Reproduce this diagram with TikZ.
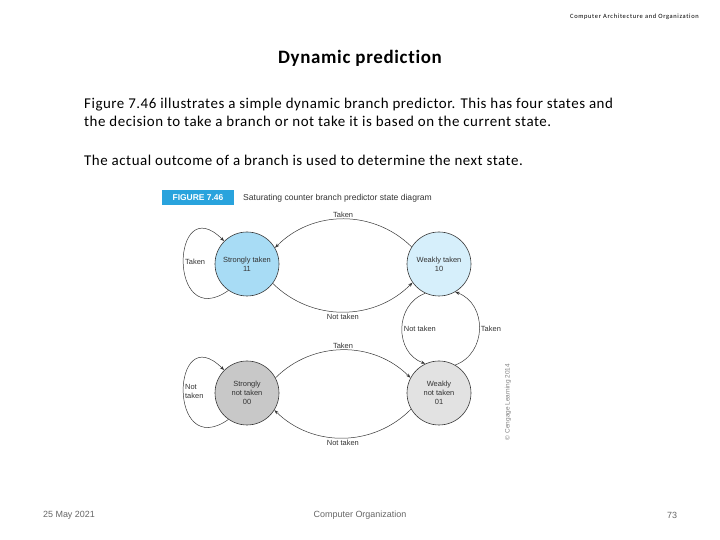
\documentclass[tikz,border=0pt]{standalone}
\usepackage{fontspec}
\setmainfont[Ligatures=NoCommon]{Carlito}
\newfontfamily\arialfont{Liberation Sans}
\newfontfamily\spacedfont[Ligatures=NoCommon,LetterSpace=3.5]{Carlito}
\newfontfamily\headerfont[Ligatures=NoCommon,LetterSpace=10]{Carlito}
\usetikzlibrary{arrows.meta,positioning}
\definecolor{figblue}{RGB}{41,163,221}
\definecolor{strongblue}{RGB}{168,220,245}
\definecolor{weakblue}{RGB}{214,239,251}
\definecolor{stronggray}{RGB}{200,200,200}
\definecolor{weakgray}{RGB}{226,226,226}
\definecolor{linegray}{RGB}{55,55,55}
\tikzset{
    state circle/.style={
        circle, draw=linegray, line width=0.6pt,
        minimum size=64bp, inner sep=0pt, align=center,
        font=\arialfont\fontsize{7.5}{9}\selectfont,
        text=black!80
    },
    edge label/.style={
        font=\arialfont\fontsize{7.5}{9}\selectfont,
        text=black!80, inner sep=1.5bp
    },
    transition/.style={
        draw=linegray, line width=0.5pt,
        -{Stealth[length=4.5bp,width=3.2bp]}
    },
    body line/.style={
        anchor=base west, inner sep=0pt,
        font=\spacedfont\fontsize{15}{18}\selectfont
    },
    footer text/.style={
        inner sep=0pt, text=black!60,
        font=\arialfont\fontsize{9}{10}\selectfont
    }
}

\begin{document}
\begin{tikzpicture}[x=1bp,y=1bp]
    \useasboundingbox (0,0) rectangle (720,540);
    % slide text
    \node[anchor=east, inner sep=0pt, font=\headerfont\fontsize{6.5}{7}\selectfont] (header) at (699,523) {Computer Architecture and Organization};
    \node[anchor=base, inner sep=0pt, font=\spacedfont\bfseries\fontsize{19}{22}\selectfont] (title) at (360,476) {Dynamic prediction};
    \node[body line] (lineone) at (84,431) {Figure 7.46 illustrates a simple dynamic branch predictor. This has four states and};
    \node[body line] (linetwo) at (84,413) {the decision to take a branch or not take it is based on the current state.};
    \node[body line] (linethree) at (84,374) {The actual outcome of a branch is used to determine the next state.};
    % figure heading
    \node[fill=figblue, text=white, inner sep=0pt, minimum width=72bp, minimum height=15bp,
          font=\arialfont\bfseries\fontsize{8.5}{10}\selectfont] (figlabel) at (198,342) {FIGURE 7.46};
    \node[anchor=west, inner sep=0pt, text=black!80, font=\arialfont\fontsize{8.6}{10}\selectfont] (caption) at (243,342) {Saturating counter branch predictor state diagram};
    % states
    \node[state circle, fill=strongblue] (st) at (247,276) {Strongly taken\\11};
    \node[state circle, fill=weakblue] (wt) at (439,276) {Weakly taken\\10};
    \node[state circle, fill=stronggray] (snt) at (247,147) {Strongly\\not taken\\00};
    \node[state circle, fill=weakgray] (wnt) at (439,147) {Weakly\\not taken\\01};
    % transitions
    \draw[transition] (st.-125) .. controls +(215:75) and +(135:75) .. node[edge label, anchor=west] (stloop) {Taken} (st.135);
    \draw[transition] (wt.148) to[bend right=45] node[edge label, above] (wtst) {Taken} (st.30);
    \draw[transition] (st.-37) to[bend right=45] node[edge label, below] (stwt) {Not taken} (wt.215);
    \draw[transition] (wt.-115) to[out=200, in=160, looseness=1.2] node[edge label, right] (wtwnt) {Not taken} (wnt.115);
    \draw[transition] (wnt.60) to[out=20, in=-20, looseness=1.2] node[edge label, right] (wntwt) {Taken} (wt.-60);
    \draw[transition] (snt.28) to[bend left=45] node[edge label, above] (sntwnt) {Taken} (wnt.152);
    \draw[transition] (wnt.210) to[bend left=45] node[edge label, below] (wntsnt) {Not taken} (snt.-32);
    \draw[transition] (snt.-125) .. controls +(215:75) and +(135:75) .. node[edge label, anchor=west, align=left] (sntloop) {Not\\taken} (snt.135);
    % credit and footer
    \node[rotate=90, inner sep=0pt, text=black!50, font=\arialfont\fontsize{6.5}{7}\selectfont] (credit) at (508,138) {\textcopyright{} Cengage Learning 2014};
    \node[footer text] (date) at (69,25) {25 May 2021};
    \node[footer text] (course) at (360,25) {Computer Organization};
    \node[footer text] (page) at (672,25) {73};
\end{tikzpicture}
\end{document}
